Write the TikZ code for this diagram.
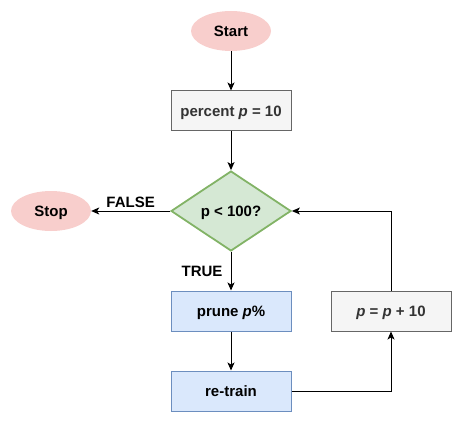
\documentclass[tikz,border=0pt]{standalone}
\usepackage{fontspec}
\setmainfont{Liberation Sans}
\usetikzlibrary{shapes.geometric,arrows.meta}
\definecolor{redfill}{HTML}{F8CECC}
\definecolor{grayfill}{HTML}{F5F5F5}
\definecolor{graydraw}{HTML}{666666}
\definecolor{graytext}{HTML}{333333}
\definecolor{greenfill}{HTML}{D5E8D4}
\definecolor{greendraw}{HTML}{82B366}
\definecolor{bluefill}{HTML}{DAE8FC}
\definecolor{bluedraw}{HTML}{6C8EBF}
\begin{document}
\begin{tikzpicture}[x=1pt,y=-1pt,
  every node/.style={font=\fontsize{15}{18}\selectfont\bfseries},
  capc/.style={text height=10.7pt,text depth=0pt},
  terminal/.style={capc,ellipse,fill=redfill,minimum width=80pt,minimum height=40pt,inner sep=0pt},
  graybox/.style={capc,rectangle,draw=graydraw,fill=grayfill,text=graytext,minimum width=120pt,minimum height=40pt,inner sep=0pt,line width=1pt},
  bluebox/.style={capc,rectangle,draw=bluedraw,fill=bluefill,minimum width=120pt,minimum height=40pt,inner sep=0pt,line width=1pt},
  decision/.style={capc,diamond,draw=greendraw,fill=greenfill,minimum width=120pt,minimum height=80pt,inner sep=0pt,aspect=1.5,line width=1.8pt},
  conn/.style={line width=1pt,-{Stealth[length=8pt,width=7pt,inset=2pt]}},
  lbl/.style={inner sep=0pt}
]
\useasboundingbox (0,0) rectangle (462,422);
\node[terminal] (start) at (231,31) {Start};
\node[graybox] (init) at (231,111) {percent \textit{p} = 10};
\node[decision] (cond) at (231,211) {p < 100?};
\node[terminal] (stop) at (51,211) {Stop};
\node[bluebox] (prune) at (231,311) {prune \textit{p}\%};
\node[bluebox] (retrain) at (231,391) {re-train};
\node[graybox] (inc) at (391,311) {\textit{p} = \textit{p} + 10};
\draw[conn] (start) -- (init);
\draw[conn] (init) -- (cond);
\draw[conn] (cond.west) -- node[lbl,above=3pt] {FALSE} (stop.east);
\draw[conn] (cond.south) -- node[lbl,left=8pt] {TRUE} (prune.north);
\draw[conn] (prune) -- (retrain);
\draw[conn] (retrain.east) -| (inc.south);
\draw[conn] (inc.north) |- (cond.east);
\end{tikzpicture}
\end{document}
